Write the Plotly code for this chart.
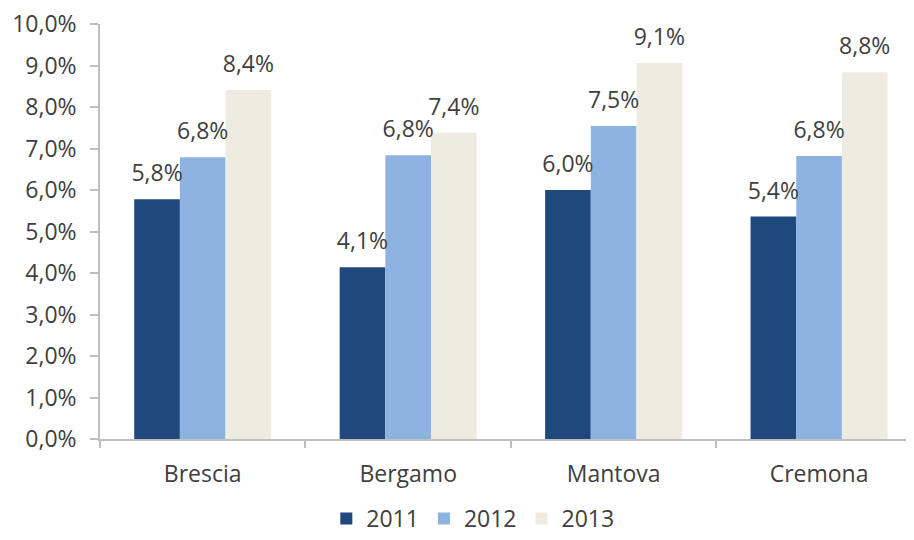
import plotly.graph_objects as go

categories = ["Brescia", "Bergamo", "Mantova", "Cremona"]
years = ["2011", "2012", "2013"]
values_2011 = [5.78, 4.14, 6.0, 5.36]
values_2012 = [6.79, 6.84, 7.54, 6.82]
values_2013 = [8.41, 7.38, 9.06, 8.84]
colors = ["#1f497d", "#8db3e2", "#eeece1"]
y_ticks = [0, 1, 2, 3, 4, 5, 6, 7, 8, 9, 10]
y_tick_labels = [f"{t:.1f}".replace(".", ",") + "%" for t in y_ticks]

def fmt(v):
    return f"{v:.1f}".replace(".", ",") + "%"

FONT = "Open Sans"
TXT = "#404040"
AXC = "#bfbfbf"
FS = 23

fig = go.Figure()
series = [values_2011, values_2012, values_2013]
for yr, vals, col in zip(years, series, colors):
    fig.add_trace(go.Bar(
        x=categories, y=vals, name=yr, marker=dict(color=col, line=dict(width=0)),
    ))
for yr, vals in zip(years, series):
    fig.add_trace(go.Scatter(
        x=categories, y=vals, mode="markers+text", showlegend=False, hoverinfo="skip",
        marker=dict(size=18, opacity=0), text=[fmt(v) for v in vals],
        textposition="top center", textfont=dict(family=FONT, size=FS, color=TXT),
        cliponaxis=False,
    ))

# page body has an 8px default margin, so the figure is sized/offset to compensate
fig.update_layout(
    width=906, height=532,
    margin=dict(l=92, r=0, t=16, b=101, autoexpand=False),
    paper_bgcolor="white", plot_bgcolor="white",
    barmode="group", bargap=0.333, bargroupgap=0,
    scattermode="group", scattergap=0.333,
    font=dict(family=FONT, size=FS, color=TXT),
    showlegend=True,
    legend=dict(orientation="h", x=0.458, xanchor="center", y=-0.2434, yanchor="bottom",
                font=dict(family=FONT, size=FS, color=TXT), traceorder="normal",
                bgcolor="rgba(0,0,0,0)"),
)
fig.update_xaxes(
    range=[-0.5, 3.462], showline=True, linecolor=AXC, linewidth=1.5,
    ticks="outside", tickson="boundaries", ticklen=7, tickcolor=AXC, tickwidth=1.5,
    showgrid=False, tickfont=dict(family=FONT, size=FS, color=TXT), ticklabelstandoff=14,
)
fig.update_yaxes(
    range=[0, 10], tickvals=y_ticks, ticktext=y_tick_labels, showline=True, linecolor=AXC,
    linewidth=1.5, ticks="outside", ticklen=8, tickcolor=AXC, tickwidth=1.5,
    showgrid=False, zeroline=False, tickfont=dict(family=FONT, size=FS, color=TXT),
    ticklabelstandoff=9, ticklabeloverflow="allow",
)
fig.write_html("out.html")
